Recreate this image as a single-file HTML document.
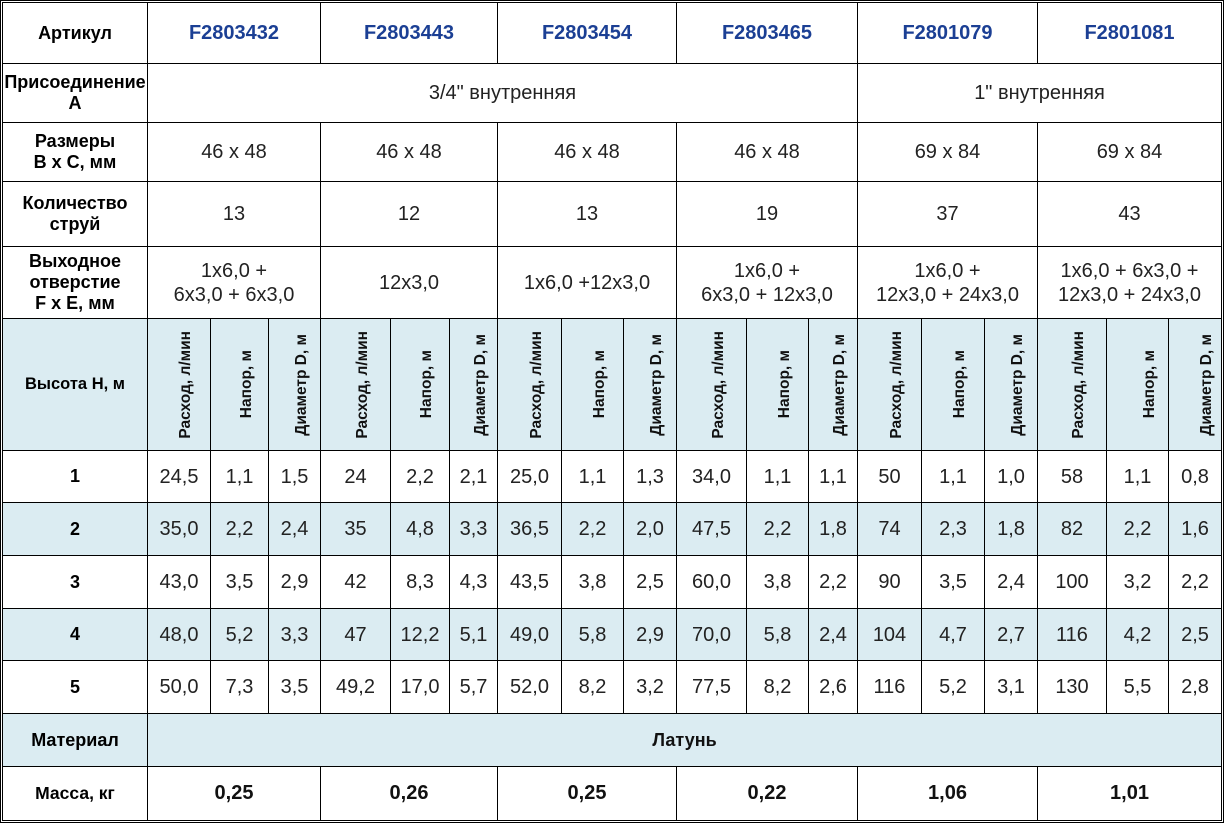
<!DOCTYPE html>
<html><head><meta charset="utf-8">
<style>
html,body{margin:0;padding:0;background:#fff;}
body{width:1225px;height:825px;position:relative;overflow:hidden;font-family:"Liberation Sans",Arial,sans-serif;}
.o{position:absolute;left:0;top:0;width:1224px;height:823px;border:1px solid #000;box-sizing:border-box;}
.c{position:absolute;box-sizing:border-box;border:1px solid #000;display:flex;align-items:center;justify-content:center;text-align:center;background:#fff;}
.b{background:#dbecf2;}
.lb{font-weight:bold;font-size:18px;line-height:21px;color:#000;}
.h{font-weight:bold;font-size:20px;color:#1b3f94;}
.n{font-size:20px;color:#222;line-height:24px;}
.nb{font-size:20px;font-weight:bold;color:#111;}
.r{font-size:18px;font-weight:bold;color:#000;}
.v{padding-left:14px;}
.v span{writing-mode:vertical-rl;transform:rotate(180deg);font-weight:bold;font-size:15.5px;color:#111;white-space:nowrap;}
.v2{padding-left:24px;}
</style></head><body>
<div class="o"></div>

<!-- Row 1: Артикул -->
<div class="c lb" style="left:2px;top:2px;width:146px;height:62px">Артикул</div>
<div class="c h" style="left:147px;top:2px;width:174px;height:62px">F2803432</div>
<div class="c h" style="left:320px;top:2px;width:178px;height:62px">F2803443</div>
<div class="c h" style="left:497px;top:2px;width:180px;height:62px">F2803454</div>
<div class="c h" style="left:676px;top:2px;width:182px;height:62px">F2803465</div>
<div class="c h" style="left:857px;top:2px;width:181px;height:62px">F2801079</div>
<div class="c h" style="left:1037px;top:2px;width:185px;height:62px">F2801081</div>

<!-- Row 2: Присоединение -->
<div class="c lb" style="left:2px;top:63px;width:146px;height:60px">Присоединение<br>А</div>
<div class="c n" style="left:147px;top:63px;width:711px;height:60px">3/4" внутренняя</div>
<div class="c n" style="left:857px;top:63px;width:365px;height:60px">1" внутренняя</div>

<!-- Row 3: Размеры -->
<div class="c lb" style="left:2px;top:122px;width:146px;height:60px">Размеры<br>В x С, мм</div>
<div class="c n" style="left:147px;top:122px;width:174px;height:60px">46 x 48</div>
<div class="c n" style="left:320px;top:122px;width:178px;height:60px">46 x 48</div>
<div class="c n" style="left:497px;top:122px;width:180px;height:60px">46 x 48</div>
<div class="c n" style="left:676px;top:122px;width:182px;height:60px">46 x 48</div>
<div class="c n" style="left:857px;top:122px;width:181px;height:60px">69 x 84</div>
<div class="c n" style="left:1037px;top:122px;width:185px;height:60px">69 x 84</div>

<!-- Row 4: Количество струй -->
<div class="c lb" style="left:2px;top:181px;width:146px;height:66px">Количество<br>струй</div>
<div class="c n" style="left:147px;top:181px;width:174px;height:66px">13</div>
<div class="c n" style="left:320px;top:181px;width:178px;height:66px">12</div>
<div class="c n" style="left:497px;top:181px;width:180px;height:66px">13</div>
<div class="c n" style="left:676px;top:181px;width:182px;height:66px">19</div>
<div class="c n" style="left:857px;top:181px;width:181px;height:66px">37</div>
<div class="c n" style="left:1037px;top:181px;width:185px;height:66px">43</div>

<!-- Row 5: Выходное отверстие -->
<div class="c lb" style="left:2px;top:246px;width:146px;height:73px">Выходное<br>отверстие<br>F x E, мм</div>
<div class="c n" style="left:147px;top:246px;width:174px;height:73px">1x6,0 +<br>6x3,0 + 6x3,0</div>
<div class="c n" style="left:320px;top:246px;width:178px;height:73px">12x3,0</div>
<div class="c n" style="left:497px;top:246px;width:180px;height:73px">1x6,0 +12x3,0</div>
<div class="c n" style="left:676px;top:246px;width:182px;height:73px">1x6,0 +<br>6x3,0 + 12x3,0</div>
<div class="c n" style="left:857px;top:246px;width:181px;height:73px">1x6,0 +<br>12x3,0 + 24x3,0</div>
<div class="c n" style="left:1037px;top:246px;width:185px;height:73px">1x6,0 + 6x3,0 +<br>12x3,0 + 24x3,0</div>

<!-- Row 6: rotated header -->
<div class="c b lb" style="left:2px;top:318px;width:146px;height:133px;font-size:16.5px">Высота Н, м</div>
<div class="c b v" style="left:147px;top:318px;width:64px;height:133px"><span>Расход, л/мин</span></div>
<div class="c b v" style="left:210px;top:318px;width:59px;height:133px"><span>Напор, м</span></div>
<div class="c b v" style="left:268px;top:318px;width:53px;height:133px"><span>Диаметр D, м</span></div>
<div class="c b v" style="left:320px;top:318px;width:71px;height:133px"><span>Расход, л/мин</span></div>
<div class="c b v" style="left:390px;top:318px;width:60px;height:133px"><span>Напор, м</span></div>
<div class="c b v" style="left:449px;top:318px;width:49px;height:133px"><span>Диаметр D, м</span></div>
<div class="c b v" style="left:497px;top:318px;width:65px;height:133px"><span>Расход, л/мин</span></div>
<div class="c b v" style="left:561px;top:318px;width:63px;height:133px"><span>Напор, м</span></div>
<div class="c b v" style="left:623px;top:318px;width:54px;height:133px"><span>Диаметр D, м</span></div>
<div class="c b v" style="left:676px;top:318px;width:71px;height:133px"><span>Расход, л/мин</span></div>
<div class="c b v" style="left:746px;top:318px;width:63px;height:133px"><span>Напор, м</span></div>
<div class="c b v" style="left:808px;top:318px;width:50px;height:133px"><span>Диаметр D, м</span></div>
<div class="c b v" style="left:857px;top:318px;width:65px;height:133px"><span>Расход, л/мин</span></div>
<div class="c b v" style="left:921px;top:318px;width:64px;height:133px"><span>Напор, м</span></div>
<div class="c b v" style="left:984px;top:318px;width:54px;height:133px"><span>Диаметр D, м</span></div>
<div class="c b v" style="left:1037px;top:318px;width:70px;height:133px"><span>Расход, л/мин</span></div>
<div class="c b v v2" style="left:1106px;top:318px;width:63px;height:133px"><span>Напор, м</span></div>
<div class="c b v v2" style="left:1168px;top:318px;width:54px;height:133px"><span>Диаметр D, м</span></div>

<!-- Data row 1 (450-502) -->
<div class="c r" style="left:2px;top:450px;width:146px;height:53px">1</div>
<div class="c n" style="left:147px;top:450px;width:64px;height:53px">24,5</div>
<div class="c n" style="left:210px;top:450px;width:59px;height:53px">1,1</div>
<div class="c n" style="left:268px;top:450px;width:53px;height:53px">1,5</div>
<div class="c n" style="left:320px;top:450px;width:71px;height:53px">24</div>
<div class="c n" style="left:390px;top:450px;width:60px;height:53px">2,2</div>
<div class="c n" style="left:449px;top:450px;width:49px;height:53px">2,1</div>
<div class="c n" style="left:497px;top:450px;width:65px;height:53px">25,0</div>
<div class="c n" style="left:561px;top:450px;width:63px;height:53px">1,1</div>
<div class="c n" style="left:623px;top:450px;width:54px;height:53px">1,3</div>
<div class="c n" style="left:676px;top:450px;width:71px;height:53px">34,0</div>
<div class="c n" style="left:746px;top:450px;width:63px;height:53px">1,1</div>
<div class="c n" style="left:808px;top:450px;width:50px;height:53px">1,1</div>
<div class="c n" style="left:857px;top:450px;width:65px;height:53px">50</div>
<div class="c n" style="left:921px;top:450px;width:64px;height:53px">1,1</div>
<div class="c n" style="left:984px;top:450px;width:54px;height:53px">1,0</div>
<div class="c n" style="left:1037px;top:450px;width:70px;height:53px">58</div>
<div class="c n" style="left:1106px;top:450px;width:63px;height:53px">1,1</div>
<div class="c n" style="left:1168px;top:450px;width:54px;height:53px">0,8</div>

<!-- Data row 2 (502-555) blue -->
<div class="c b r" style="left:2px;top:502px;width:146px;height:54px">2</div>
<div class="c b n" style="left:147px;top:502px;width:64px;height:54px">35,0</div>
<div class="c b n" style="left:210px;top:502px;width:59px;height:54px">2,2</div>
<div class="c b n" style="left:268px;top:502px;width:53px;height:54px">2,4</div>
<div class="c b n" style="left:320px;top:502px;width:71px;height:54px">35</div>
<div class="c b n" style="left:390px;top:502px;width:60px;height:54px">4,8</div>
<div class="c b n" style="left:449px;top:502px;width:49px;height:54px">3,3</div>
<div class="c b n" style="left:497px;top:502px;width:65px;height:54px">36,5</div>
<div class="c b n" style="left:561px;top:502px;width:63px;height:54px">2,2</div>
<div class="c b n" style="left:623px;top:502px;width:54px;height:54px">2,0</div>
<div class="c b n" style="left:676px;top:502px;width:71px;height:54px">47,5</div>
<div class="c b n" style="left:746px;top:502px;width:63px;height:54px">2,2</div>
<div class="c b n" style="left:808px;top:502px;width:50px;height:54px">1,8</div>
<div class="c b n" style="left:857px;top:502px;width:65px;height:54px">74</div>
<div class="c b n" style="left:921px;top:502px;width:64px;height:54px">2,3</div>
<div class="c b n" style="left:984px;top:502px;width:54px;height:54px">1,8</div>
<div class="c b n" style="left:1037px;top:502px;width:70px;height:54px">82</div>
<div class="c b n" style="left:1106px;top:502px;width:63px;height:54px">2,2</div>
<div class="c b n" style="left:1168px;top:502px;width:54px;height:54px">1,6</div>

<!-- Data row 3 (555-608) -->
<div class="c r" style="left:2px;top:555px;width:146px;height:54px">3</div>
<div class="c n" style="left:147px;top:555px;width:64px;height:54px">43,0</div>
<div class="c n" style="left:210px;top:555px;width:59px;height:54px">3,5</div>
<div class="c n" style="left:268px;top:555px;width:53px;height:54px">2,9</div>
<div class="c n" style="left:320px;top:555px;width:71px;height:54px">42</div>
<div class="c n" style="left:390px;top:555px;width:60px;height:54px">8,3</div>
<div class="c n" style="left:449px;top:555px;width:49px;height:54px">4,3</div>
<div class="c n" style="left:497px;top:555px;width:65px;height:54px">43,5</div>
<div class="c n" style="left:561px;top:555px;width:63px;height:54px">3,8</div>
<div class="c n" style="left:623px;top:555px;width:54px;height:54px">2,5</div>
<div class="c n" style="left:676px;top:555px;width:71px;height:54px">60,0</div>
<div class="c n" style="left:746px;top:555px;width:63px;height:54px">3,8</div>
<div class="c n" style="left:808px;top:555px;width:50px;height:54px">2,2</div>
<div class="c n" style="left:857px;top:555px;width:65px;height:54px">90</div>
<div class="c n" style="left:921px;top:555px;width:64px;height:54px">3,5</div>
<div class="c n" style="left:984px;top:555px;width:54px;height:54px">2,4</div>
<div class="c n" style="left:1037px;top:555px;width:70px;height:54px">100</div>
<div class="c n" style="left:1106px;top:555px;width:63px;height:54px">3,2</div>
<div class="c n" style="left:1168px;top:555px;width:54px;height:54px">2,2</div>

<!-- Data row 4 (608-660) blue -->
<div class="c b r" style="left:2px;top:608px;width:146px;height:53px">4</div>
<div class="c b n" style="left:147px;top:608px;width:64px;height:53px">48,0</div>
<div class="c b n" style="left:210px;top:608px;width:59px;height:53px">5,2</div>
<div class="c b n" style="left:268px;top:608px;width:53px;height:53px">3,3</div>
<div class="c b n" style="left:320px;top:608px;width:71px;height:53px">47</div>
<div class="c b n" style="left:390px;top:608px;width:60px;height:53px">12,2</div>
<div class="c b n" style="left:449px;top:608px;width:49px;height:53px">5,1</div>
<div class="c b n" style="left:497px;top:608px;width:65px;height:53px">49,0</div>
<div class="c b n" style="left:561px;top:608px;width:63px;height:53px">5,8</div>
<div class="c b n" style="left:623px;top:608px;width:54px;height:53px">2,9</div>
<div class="c b n" style="left:676px;top:608px;width:71px;height:53px">70,0</div>
<div class="c b n" style="left:746px;top:608px;width:63px;height:53px">5,8</div>
<div class="c b n" style="left:808px;top:608px;width:50px;height:53px">2,4</div>
<div class="c b n" style="left:857px;top:608px;width:65px;height:53px">104</div>
<div class="c b n" style="left:921px;top:608px;width:64px;height:53px">4,7</div>
<div class="c b n" style="left:984px;top:608px;width:54px;height:53px">2,7</div>
<div class="c b n" style="left:1037px;top:608px;width:70px;height:53px">116</div>
<div class="c b n" style="left:1106px;top:608px;width:63px;height:53px">4,2</div>
<div class="c b n" style="left:1168px;top:608px;width:54px;height:53px">2,5</div>

<!-- Data row 5 (660-713) -->
<div class="c r" style="left:2px;top:660px;width:146px;height:54px">5</div>
<div class="c n" style="left:147px;top:660px;width:64px;height:54px">50,0</div>
<div class="c n" style="left:210px;top:660px;width:59px;height:54px">7,3</div>
<div class="c n" style="left:268px;top:660px;width:53px;height:54px">3,5</div>
<div class="c n" style="left:320px;top:660px;width:71px;height:54px">49,2</div>
<div class="c n" style="left:390px;top:660px;width:60px;height:54px">17,0</div>
<div class="c n" style="left:449px;top:660px;width:49px;height:54px">5,7</div>
<div class="c n" style="left:497px;top:660px;width:65px;height:54px">52,0</div>
<div class="c n" style="left:561px;top:660px;width:63px;height:54px">8,2</div>
<div class="c n" style="left:623px;top:660px;width:54px;height:54px">3,2</div>
<div class="c n" style="left:676px;top:660px;width:71px;height:54px">77,5</div>
<div class="c n" style="left:746px;top:660px;width:63px;height:54px">8,2</div>
<div class="c n" style="left:808px;top:660px;width:50px;height:54px">2,6</div>
<div class="c n" style="left:857px;top:660px;width:65px;height:54px">116</div>
<div class="c n" style="left:921px;top:660px;width:64px;height:54px">5,2</div>
<div class="c n" style="left:984px;top:660px;width:54px;height:54px">3,1</div>
<div class="c n" style="left:1037px;top:660px;width:70px;height:54px">130</div>
<div class="c n" style="left:1106px;top:660px;width:63px;height:54px">5,5</div>
<div class="c n" style="left:1168px;top:660px;width:54px;height:54px">2,8</div>

<!-- Материал (713-766) -->
<div class="c b lb" style="left:2px;top:713px;width:146px;height:54px">Материал</div>
<div class="c b" style="left:147px;top:713px;width:1075px;height:54px;font-weight:bold;font-size:18px;color:#111;">Латунь</div>

<!-- Масса (766-820) -->
<div class="c lb" style="left:2px;top:766px;width:146px;height:55px;font-size:17.5px">Масса, кг</div>
<div class="c nb" style="left:147px;top:766px;width:174px;height:55px">0,25</div>
<div class="c nb" style="left:320px;top:766px;width:178px;height:55px">0,26</div>
<div class="c nb" style="left:497px;top:766px;width:180px;height:55px">0,25</div>
<div class="c nb" style="left:676px;top:766px;width:182px;height:55px">0,22</div>
<div class="c nb" style="left:857px;top:766px;width:181px;height:55px">1,06</div>
<div class="c nb" style="left:1037px;top:766px;width:185px;height:55px">1,01</div>
</body></html>
